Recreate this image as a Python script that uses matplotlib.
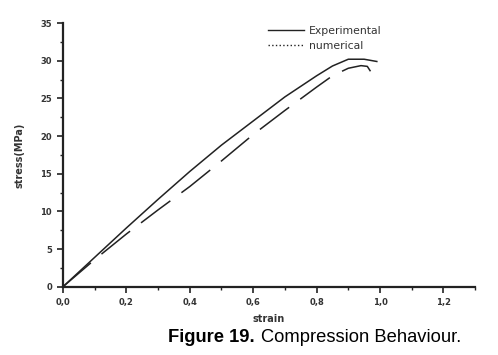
import numpy as np
import matplotlib
matplotlib.use('Agg')
import matplotlib.pyplot as plt
from matplotlib.lines import Line2D
from matplotlib.ticker import MultipleLocator, FuncFormatter

# --- data ---
strain_exp = [0.0, 0.1, 0.2, 0.3, 0.4, 0.5, 0.6, 0.7, 0.8, 0.85, 0.9, 0.95, 0.99]
stress_exp = [0.0, 3.9, 7.8, 11.6, 15.3, 18.8, 22.0, 25.2, 28.0, 29.3, 30.2, 30.2, 29.9]

strain_num = [0.0, 0.1, 0.2, 0.3, 0.4, 0.5, 0.6, 0.7, 0.8, 0.85, 0.9, 0.94, 0.96, 0.97]
stress_num = [0.0, 3.6, 7.0, 10.2, 13.3, 16.7, 20.2, 23.4, 26.5, 28.0, 29.0, 29.35, 29.25, 28.6]

legend_labels = ['Experimental', 'numerical']
caption_bold = 'Figure 19.'
caption_text = 'Compression Behaviour.'

tick_col = '#333333'

fig = plt.figure(figsize=(4.98, 3.55), dpi=100)
ax = fig.add_axes([0.1265, 0.1924, 0.8275, 0.7426])

ax.plot(strain_exp, stress_exp, color='#222222', linewidth=1.1)
ax.plot(strain_num, stress_num, color='#222222', linewidth=1.1, dashes=(24, 9))

ax.set_xlim(0, 1.3)
ax.set_ylim(0, 35)

for side in ['top', 'right']:
    ax.spines[side].set_visible(False)
for side in ['left', 'bottom']:
    ax.spines[side].set_linewidth(1.6)
    ax.spines[side].set_color('#222222')

ax.xaxis.set_major_locator(MultipleLocator(0.2))
ax.xaxis.set_minor_locator(MultipleLocator(0.1))
ax.yaxis.set_major_locator(MultipleLocator(5))
ax.yaxis.set_minor_locator(MultipleLocator(2.5))
ax.xaxis.set_major_formatter(FuncFormatter(lambda v, p: f'{v:.1f}'.replace('.', ',')))
ax.yaxis.set_major_formatter(FuncFormatter(lambda v, p: f'{v:.0f}'))

ax.tick_params(which='major', direction='out', length=4, width=1.2, color='#222222',
               labelsize=6, labelcolor=tick_col, pad=4)
ax.tick_params(which='minor', direction='out', length=2.5, width=1.0, color='#222222')
for lab in ax.get_xticklabels() + ax.get_yticklabels():
    lab.set_fontweight('bold')

ax.set_xlabel('strain', fontsize=7, color=tick_col, fontweight='bold', labelpad=5)
ax.set_ylabel('stress(MPa)', fontsize=7, color=tick_col, fontweight='bold', labelpad=11)

handles = [Line2D([0], [0], color='#222222', linewidth=1.0),
           Line2D([0], [0], color='#222222', linewidth=1.0, linestyle=':')]
ax.legend(handles, legend_labels, loc='upper left', bbox_to_anchor=(0.475, 1.025),
          frameon=False, fontsize=7.8, labelcolor=tick_col, handlelength=3.3,
          handletextpad=0.4, labelspacing=0.45)

fig.text(168 / 498, 1 - 338 / 355, caption_bold, fontsize=13.2, fontweight='bold',
         family='Liberation Sans', va='center', ha='left')
fig.text(261 / 498, 1 - 338 / 355, caption_text, fontsize=13.2,
         family='Liberation Sans', va='center', ha='left')

fig.savefig('out.png', dpi=100)
